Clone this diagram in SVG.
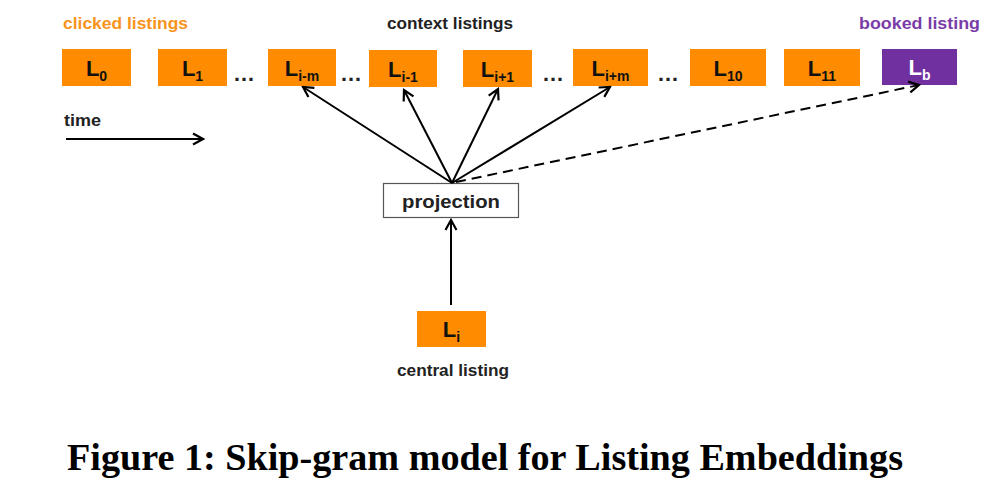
<svg xmlns="http://www.w3.org/2000/svg" width="995" height="497" viewBox="0 0 995 497">
<defs>
<style>
.box{fill:#FF8C00;}
.bb{fill:#7030A0;}
.lbl{font-family:"Liberation Sans",Arial,sans-serif;font-weight:bold;font-size:22px;fill:#111;}
.sub{font-size:14px;}
.t{font-family:"Liberation Sans",Arial,sans-serif;font-weight:bold;font-size:16px;fill:#222;}
.dots{font-family:"Liberation Sans",Arial,sans-serif;font-weight:bold;font-size:22px;fill:#222;}
.edge{stroke:#000;stroke-width:2;fill:none;}
.cap{font-family:"Liberation Serif","Times New Roman",serif;font-weight:bold;font-size:38px;fill:#000;}
</style>
<marker id="ah" viewBox="0 0 14 14" refX="12" refY="7" markerWidth="14" markerHeight="14" markerUnits="userSpaceOnUse" orient="auto">
<path d="M2,1.5 L12,7 L2,12.5" fill="none" stroke="#000" stroke-width="2.2"/>
</marker>
</defs>
<rect width="995" height="497" fill="#fff"/>

<text class="t" x="63" y="29" style="fill:#F7941D" textLength="125" lengthAdjust="spacingAndGlyphs">clicked listings</text>
<text class="t" x="387" y="29" textLength="126" lengthAdjust="spacingAndGlyphs">context listings</text>
<text class="t" x="859" y="29" style="fill:#7A3CA8" textLength="121" lengthAdjust="spacingAndGlyphs">booked listing</text>
<text class="t" x="64" y="126" textLength="37" lengthAdjust="spacingAndGlyphs">time</text>

<g id="L0"><rect class="box" x="62" y="49" width="69" height="37"/><text class="lbl" x="96.5" y="76" text-anchor="middle">L<tspan class="sub" dy="5">0</tspan></text></g>
<g id="L1"><rect class="box" x="158" y="49" width="69" height="37"/><text class="lbl" x="192.5" y="76" text-anchor="middle">L<tspan class="sub" dy="5">1</tspan></text></g>
<g id="Lim"><rect class="box" x="268" y="49" width="68" height="37"/><text class="lbl" x="302" y="76" text-anchor="middle">L<tspan class="sub" dy="5">i-m</tspan></text></g>
<g id="Li1"><rect class="box" x="369" y="50" width="68" height="37"/><text class="lbl" x="403" y="77" text-anchor="middle">L<tspan class="sub" dy="5">i-1</tspan></text></g>
<g id="Lip1"><rect class="box" x="463" y="50" width="69" height="37"/><text class="lbl" x="497.5" y="77" text-anchor="middle">L<tspan class="sub" dy="5">i+1</tspan></text></g>
<g id="Lipm"><rect class="box" x="573" y="49" width="75" height="37"/><text class="lbl" x="610.5" y="76" text-anchor="middle">L<tspan class="sub" dy="5">i+m</tspan></text></g>
<g id="L10"><rect class="box" x="690" y="49" width="76" height="37"/><text class="lbl" x="728" y="76" text-anchor="middle">L<tspan class="sub" dy="5">10</tspan></text></g>
<g id="L11"><rect class="box" x="784" y="49" width="76" height="37"/><text class="lbl" x="822" y="76" text-anchor="middle">L<tspan class="sub" dy="5">11</tspan></text></g>
<g id="Lb"><rect class="bb" x="882" y="49" width="75" height="36"/><text class="lbl" x="919.5" y="75" text-anchor="middle" style="fill:#fff">L<tspan class="sub" dy="5">b</tspan></text></g>

<g id="dots">
<text class="dots" x="244" y="81" text-anchor="middle">…</text>
<text class="dots" x="351" y="81" text-anchor="middle">…</text>
<text class="dots" x="553" y="81" text-anchor="middle">…</text>
<text class="dots" x="668" y="81" text-anchor="middle">…</text>
</g>

<g id="projection"><rect x="383.5" y="183.5" width="135" height="34" fill="#fff" stroke="#555" stroke-width="1.2"/><text class="t" x="451" y="208" text-anchor="middle" style="font-size:18px" textLength="98" lengthAdjust="spacingAndGlyphs">projection</text></g>

<g id="Li"><rect class="box" x="417" y="311" width="69" height="36"/><text class="lbl" x="451.5" y="337" text-anchor="middle">L<tspan class="sub" dy="5">i</tspan></text></g>
<text class="t" x="397" y="376" textLength="112" lengthAdjust="spacingAndGlyphs">central listing</text>

<g id="connectors">
<line class="edge" x1="66" y1="139" x2="203" y2="139" marker-end="url(#ah)"/>
<line class="edge" x1="452" y1="183" x2="303" y2="87" marker-end="url(#ah)"/>
<line class="edge" x1="452" y1="183" x2="404" y2="90" marker-end="url(#ah)"/>
<line class="edge" x1="452" y1="183" x2="498" y2="89" marker-end="url(#ah)"/>
<line class="edge" x1="452" y1="183" x2="610" y2="87" marker-end="url(#ah)"/>
<line class="edge" x1="456" y1="182" x2="919" y2="85" stroke-dasharray="10,6" marker-end="url(#ah)"/>
<line class="edge" x1="451" y1="305" x2="451" y2="220" marker-end="url(#ah)"/>
</g>

<text class="cap" x="67" y="470" textLength="836" lengthAdjust="spacingAndGlyphs">Figure 1: Skip-gram model for Listing Embeddings</text>
</svg>
